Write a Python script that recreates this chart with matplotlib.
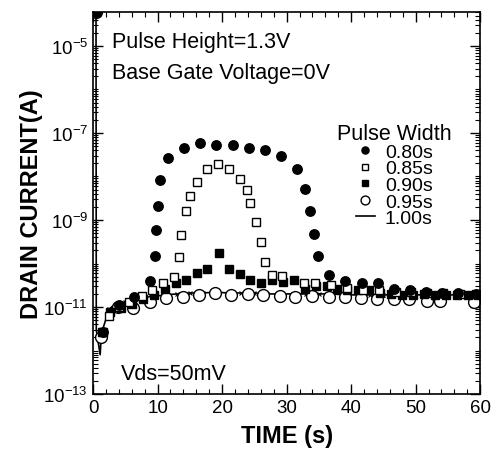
import matplotlib
matplotlib.use("Agg")
import matplotlib.pyplot as plt
import matplotlib.ticker as ticker
import numpy as np

plt.rcParams['font.family'] = ['Liberation Sans', 'DejaVu Sans']
plt.rcParams['mathtext.fontset'] = 'custom'
plt.rcParams['mathtext.rm'] = 'Liberation Sans'
plt.rcParams['mathtext.it'] = 'Liberation Sans:italic'
plt.rcParams['mathtext.bf'] = 'Liberation Sans:bold'

# pulse width 0.80 s (filled circles)
t80 = [0.5, 1.5, 4.0, 6.4, 8.9, 9.6, 9.7, 10.0, 10.3, 11.6, 14.1, 16.6, 19.1, 21.7,
       24.1, 26.7, 29.1, 31.6, 32.8, 33.6, 34.2, 34.8, 36.6, 39.1, 41.7, 44.1,
       46.7, 49.1, 51.6, 54.1, 56.6, 59.3]
i80 = [6e-5, 2.7e-12, 1.1e-11, 1.7e-11, 3.9e-11, 1.5e-10, 6.0e-10, 2.1e-9, 8.1e-9,
       2.7e-8, 4.6e-8, 5.8e-8, 5.4e-8, 5.4e-8, 4.6e-8, 4.0e-8, 2.9e-8, 1.5e-8,
       5.1e-9, 1.6e-9, 4.7e-10, 1.5e-10, 5.4e-11, 3.9e-11, 3.6e-11, 3.5e-11,
       2.6e-11, 2.5e-11, 2.2e-11, 2.1e-11, 2.1e-11, 2.0e-11]

# pulse width 0.85 s (open squares)
t85 = [0.5, 1.5, 2.5, 4.0, 5.6, 7.6, 9.1, 10.9, 12.6, 13.3, 13.7, 14.4, 15.0, 16.1,
       17.7, 19.4, 21.1, 22.7, 23.8, 24.4, 25.3, 26.0, 26.7, 27.7, 29.3, 32.7,
       34.4, 36.9, 39.4, 41.9, 44.3, 46.9, 49.3, 51.8, 54.3, 56.9, 59.3]
i85 = [6e-5, 2.7e-12, 6.3e-12, 1.0e-11, 1.3e-11, 1.8e-11, 2.5e-11, 3.5e-11, 5.0e-11,
       1.4e-10, 4.5e-10, 1.6e-9, 3.6e-9, 7.6e-9, 1.5e-8, 1.9e-8, 1.5e-8, 8.9e-9,
       4.8e-9, 2.5e-9, 8.9e-10, 3.2e-10, 1.1e-10, 5.5e-11, 5.1e-11, 3.5e-11,
       3.5e-11, 3.2e-11, 2.8e-11, 2.5e-11, 2.4e-11, 2.2e-11, 2.2e-11, 2.1e-11,
       2.1e-11, 2.0e-11, 2.0e-11]

# pulse width 0.90 s (filled squares)
t90 = [0.5, 1.4, 2.6, 4.4, 6.1, 7.7, 9.5, 11.2, 12.8, 14.4, 16.1, 17.7, 19.5, 21.1,
       22.8, 24.4, 26.1, 27.8, 29.5, 31.2, 32.9, 34.6, 36.2, 37.8, 39.4, 41.1,
       42.8, 44.5, 46.2, 47.9, 49.6, 51.3, 53.0, 54.7, 56.4, 58.1, 59.6]
i90 = [6e-5, 2.7e-12, 7.8e-12, 9.3e-12, 1.2e-11, 1.5e-11, 1.9e-11, 2.6e-11, 3.6e-11,
       4.1e-11, 6.2e-11, 7.4e-11, 1.7e-10, 7.4e-11, 5.6e-11, 4.2e-11, 3.6e-11,
       4.1e-11, 3.8e-11, 4.1e-11, 2.6e-11, 3.0e-11, 3.0e-11, 2.6e-11, 2.5e-11,
       2.5e-11, 2.5e-11, 2.1e-11, 2.0e-11, 1.9e-11, 1.9e-11, 2.0e-11, 1.9e-11,
       1.9e-11, 1.9e-11, 1.9e-11, 1.9e-11]

# pulse width 0.95 s (open circles)
t95 = [0.5, 1.2, 3.9, 6.2, 8.9, 11.3, 13.9, 16.4, 18.9, 21.4, 24.0, 26.3, 28.9,
       31.3, 34.0, 36.5, 39.0, 41.5, 44.0, 46.6, 49.0, 51.7, 53.8, 59.0]
i95 = [6e-5, 2.1e-12, 1.0e-11, 9.3e-12, 1.3e-11, 1.6e-11, 1.7e-11, 1.9e-11, 2.1e-11,
       1.9e-11, 2.0e-11, 1.9e-11, 1.8e-11, 1.7e-11, 1.8e-11, 1.7e-11, 1.7e-11,
       1.6e-11, 1.5e-11, 1.5e-11, 1.5e-11, 1.4e-11, 1.4e-11, 1.3e-11]

# pulse width 1.00 s (line)
t100 = [0.45, 0.5, 1.1, 1.3, 2.5, 3.5, 5.0, 7.0, 9.0, 11.0, 13.0, 15.0, 17.0, 19.0,
        21.0, 23.0, 25.0, 27.0, 29.0, 31.0, 33.0, 35.0, 37.0, 39.0, 41.0, 43.0,
        45.0, 47.0, 49.0, 51.0, 53.0, 55.0, 57.0, 59.0, 60.0]
i100 = [1e-3, 3e-12, 8e-13, 2.5e-12, 9e-12, 1.2e-11, 1.3e-11, 1.5e-11, 1.7e-11,
        1.9e-11, 2.0e-11, 2.1e-11, 2.1e-11, 2.2e-11, 2.1e-11, 2.1e-11, 2.1e-11,
        2.0e-11, 2.0e-11, 2.0e-11, 2.0e-11, 2.0e-11, 2.0e-11, 1.9e-11, 1.9e-11,
        1.9e-11, 1.9e-11, 1.9e-11, 1.9e-11, 1.9e-11, 1.9e-11, 1.9e-11, 1.9e-11,
        1.9e-11, 1.9e-11]

fig = plt.figure(figsize=(4.95, 4.52), dpi=100)
ax = fig.add_axes([0.188, 0.126, 0.782, 0.845])

ax.plot(t100, i100, '-', color='black', lw=1.2, marker='x', ms=3, mew=0.8,
        markevery=list(range(3, len(t100))), label='1.00s')
ax.plot(t95, i95, 'o', mfc='white', mec='black', ms=8.5, mew=1.0, label='0.95s')
ax.plot(t90, i90, 's', color='black', ms=5.5, label='0.90s')
ax.plot(t85, i85, 's', mfc='white', mec='black', ms=5.5, mew=1.0, label='0.85s')
ax.plot(t80, i80, 'o', color='black', ms=6.8, label='0.80s')

ax.set_yscale('log')
ax.set_xlim(0, 60)
ax.set_ylim(1e-13, 6e-5)
ax.set_xticks([0, 10, 20, 30, 40, 50, 60])
ax.xaxis.set_minor_locator(ticker.MultipleLocator(2))
ax.set_yticks([1e-13, 1e-11, 1e-9, 1e-7, 1e-5])
ax.yaxis.set_minor_locator(ticker.LogLocator(base=10, subs=np.arange(1, 10), numticks=30))
ax.yaxis.set_minor_formatter(ticker.NullFormatter())
ax.tick_params(which='both', direction='in', top=True, right=True, labelsize=13.5)
ax.tick_params(which='major', length=7, width=1)
ax.tick_params(which='minor', length=3.5, width=0.8)
for s in ax.spines.values():
    s.set_linewidth(1.2)

ax.set_xlabel('TIME (s)', fontsize=17, fontweight='bold', labelpad=6)
ax.set_ylabel('DRAIN CURRENT(A)', fontsize=17, fontweight='bold', labelpad=0)

ax.text(0.05, 0.924, 'Pulse Height=1.3V', transform=ax.transAxes, fontsize=15.5, va='center')
ax.text(0.05, 0.843, 'Base Gate Voltage=0V', transform=ax.transAxes, fontsize=15.5, va='center')
ax.text(0.072, 0.053, 'Vds=50mV', transform=ax.transAxes, fontsize=15.5, va='center')

h, l = ax.get_legend_handles_labels()
leg = ax.legend(h[::-1], l[::-1], title='Pulse Width', loc='upper left',
                bbox_to_anchor=(0.6, 0.74), frameon=False, fontsize=14,
                title_fontsize=15.5, handlelength=1.0, handletextpad=0.5,
                labelspacing=-0.05, borderpad=0.1, markerscale=0.75)
leg.get_lines()[4].set_marker('')

fig.savefig('out.png', dpi=100)
